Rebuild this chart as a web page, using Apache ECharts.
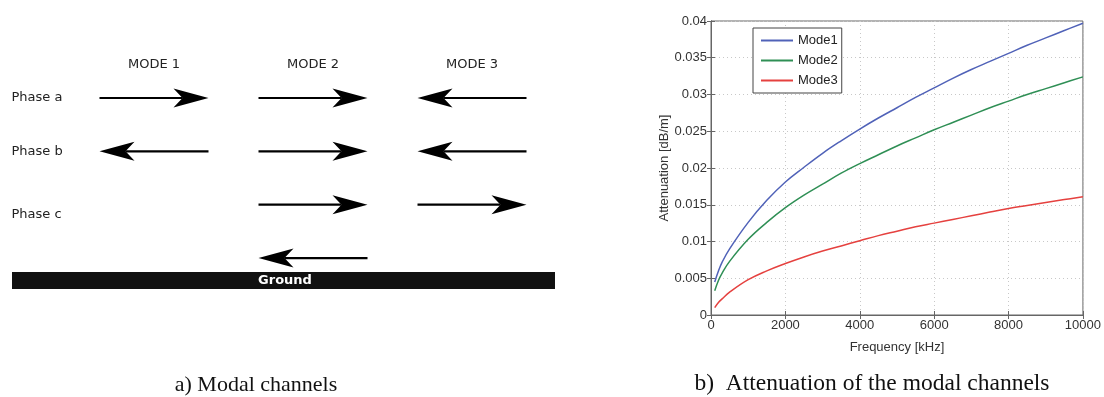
<!DOCTYPE html>
<html>
<head>
<meta charset="utf-8">
<script src="https://cdn.jsdelivr.net/npm/echarts@6/dist/echarts.min.js"></script>
<style>html,body{margin:0;padding:0;background:#fff}#c{width:1104px;height:397px}</style>
</head>
<body>
<div id="c"></div>
<script>
// ---- Panel a) data ----
const modes = ['MODE 1', 'MODE 2', 'MODE 3'];
const phases = ['Phase a', 'Phase b', 'Phase c', ''];
// direction of current per mode: 1 = right, -1 = left, 0 = none
const phaseA = [1, 1, -1];
const phaseB = [-1, 1, -1];
const phaseC = [0, 1, 1];
const groundReturn = [0, -1, 0];

// ---- Panel b) data ----
const freq  = [100, 200, 300, 500, 1000, 1500, 2000, 2500, 3000, 3500, 4000, 4500, 5000, 5500, 6000, 6500, 7000, 7500, 8000, 8500, 9000, 9500, 10000];
const mode1 = [0.0045, 0.0060, 0.0072, 0.0090, 0.0126, 0.0156, 0.0181, 0.0201, 0.0220, 0.0237, 0.0253, 0.0268, 0.0282, 0.0296, 0.0309, 0.0322, 0.0334, 0.0345, 0.0356, 0.0367, 0.0377, 0.0387, 0.0397];
const mode2 = [0.0033, 0.0047, 0.0057, 0.0073, 0.0103, 0.0126, 0.0146, 0.0163, 0.0178, 0.0193, 0.0206, 0.0218, 0.0230, 0.0241, 0.0252, 0.0262, 0.0272, 0.0282, 0.0291, 0.0300, 0.0308, 0.0316, 0.0324];
const mode3 = [0.0010, 0.0017, 0.0022, 0.0031, 0.0048, 0.0060, 0.0070, 0.0079, 0.0087, 0.0094, 0.0101, 0.0108, 0.0114, 0.0120, 0.0125, 0.0130, 0.0135, 0.0140, 0.0145, 0.0149, 0.0153, 0.0157, 0.0161];
const seriesNames = ['Mode1', 'Mode2', 'Mode3'];
const seriesColors = ['#5062b8', '#2f8f55', '#e5413f'];

const arrowRows = [phaseA, phaseB, phaseC, groundReturn];
const arrowData = [];
arrowRows.forEach((row, r) => row.forEach((d, m) => { if (d !== 0) arrowData.push([m, r, d]); }));
const zip = (xs, ys) => xs.map((x, i) => [x, ys[i]]);
const seriesValues = [mode1, mode2, mode3];

const sans = 'DejaVu Sans';
const helv = 'Liberation Sans';

const chart = echarts.init(document.getElementById('c'), null, {renderer: 'canvas'});
chart.setOption({
  animation: false,
  backgroundColor: '#fff',
  grid: [
    {left: 74.5, right: 552.5, top: 71.3, bottom: 112.3},
    {left: 711, right: 20, top: 21, bottom: 82, show: true, borderColor: '#666', borderWidth: 1, backgroundColor: '#fff'}
  ],
  xAxis: [
    {gridIndex: 0, type: 'category', data: modes, position: 'top',
     axisLine: {show: false}, axisTick: {show: false}, splitLine: {show: false},
     axisLabel: {fontFamily: sans, fontSize: 13, color: '#222', margin: 7, verticalAlign: 'middle'}},
    {gridIndex: 1, type: 'value', min: 0, max: 10000, interval: 2000, position: 'bottom',
     name: 'Frequency [kHz]', nameLocation: 'middle', nameGap: 26,
     nameTextStyle: {fontFamily: helv, fontSize: 13, color: '#333'},
     axisLine: {show: true, lineStyle: {color: '#666'}},
     axisTick: {show: true, inside: true, length: 4, lineStyle: {color: '#666'}},
     axisLabel: {fontFamily: helv, fontSize: 13, color: '#333', margin: 4, formatter: v => String(v)},
     splitLine: {show: true, lineStyle: {color: '#c8c8c8', type: [1, 3]}}},
    {gridIndex: 1, type: 'value', min: 0, max: 10000, interval: 2000, position: 'top',
     axisLine: {show: true, lineStyle: {color: '#666'}},
     axisTick: {show: true, inside: true, length: 4, lineStyle: {color: '#666'}},
     axisLabel: {show: false}, splitLine: {show: false}}
  ],
  yAxis: [
    {gridIndex: 0, type: 'category', data: phases, inverse: true,
     axisLine: {show: false}, axisTick: {show: false}, splitLine: {show: false},
     axisLabel: {fontFamily: sans, fontSize: 13, color: '#222', align: 'left', margin: 63,
       formatter: v => v === 'Phase c' ? '{c|' + v + '}' : v,
       rich: {c: {fontFamily: sans, fontSize: 13, color: '#222', padding: [20, 0, 0, 0]}}}},
    {gridIndex: 1, type: 'value', min: 0, max: 0.04, interval: 0.005,
     name: 'Attenuation [dB/m]', nameLocation: 'middle', nameGap: 39, nameRotate: 90,
     nameTextStyle: {fontFamily: helv, fontSize: 13, color: '#333'},
     axisLine: {show: true, lineStyle: {color: '#666'}},
     axisTick: {show: true, inside: true, length: 4, lineStyle: {color: '#666'}},
     axisLabel: {fontFamily: helv, fontSize: 13, color: '#333', margin: 4},
     splitLine: {show: true, lineStyle: {color: '#c8c8c8', type: [1, 3]}}},
    {gridIndex: 1, type: 'value', min: 0, max: 0.04, interval: 0.005, position: 'right',
     axisLine: {show: true, lineStyle: {color: '#666'}},
     axisTick: {show: true, inside: true, length: 4, lineStyle: {color: '#666'}},
     axisLabel: {show: false}, splitLine: {show: false}}
  ],
  legend: {
    data: seriesNames, orient: 'vertical', left: 753, top: 28,
    padding: [6, 4, 6, 7], itemWidth: 32, itemHeight: 12, itemGap: 7,
    borderColor: '#444', borderWidth: 1, backgroundColor: '#fff',
    itemStyle: {opacity: 0},
    textStyle: {fontFamily: helv, fontSize: 13, color: '#222'}
  },
  graphic: [
    {type: 'rect', left: 12, top: 272, shape: {width: 543, height: 17}, style: {fill: '#111'}},
    {type: 'text', x: 285, y: 280.5, style: {text: 'Ground', fill: '#fff', font: 'bold 13px "DejaVu Sans"', align: 'center', verticalAlign: 'middle'}},
    {type: 'text', x: 256, y: 385, style: {text: 'a) Modal channels', fill: '#111', font: '22px "Liberation Serif"', align: 'center', verticalAlign: 'middle'}},
    {type: 'text', x: 872, y: 384, style: {text: 'b)  Attenuation of the modal channels', fill: '#111', font: '23.5px "Liberation Serif"', align: 'center', verticalAlign: 'middle'}}
  ],
  series: [
    {type: 'custom', xAxisIndex: 0, yAxisIndex: 0, data: arrowData, silent: true,
     renderItem: function (params, api) {
       const c = api.coord([api.value(0), api.value(1)]);
       const d = api.value(2);
       const half = 54.5, headLen = 35, notch = 26, hw = 9.5;
       const y = c[1];
       const tip = c[0] + d * half, tail = c[0] - d * half;
       return {type: 'group', children: [
         {type: 'line', shape: {x1: tail, y1: y, x2: tip - d * notch, y2: y}, style: {stroke: '#000', lineWidth: 2.2}},
         {type: 'polygon', shape: {points: [[tip, y], [tip - d * headLen, y - hw], [tip - d * notch, y], [tip - d * headLen, y + hw]]}, style: {fill: '#000'}}
       ]};
     }}
  ].concat(seriesNames.map((n, i) => ({
    name: n, type: 'line', xAxisIndex: 1, yAxisIndex: 1, data: zip(freq, seriesValues[i]),
    symbol: 'none', smooth: 0.4,
    lineStyle: {color: seriesColors[i], width: 1.5}, itemStyle: {color: seriesColors[i]}
  })))
});
</script>
</body>
</html>
